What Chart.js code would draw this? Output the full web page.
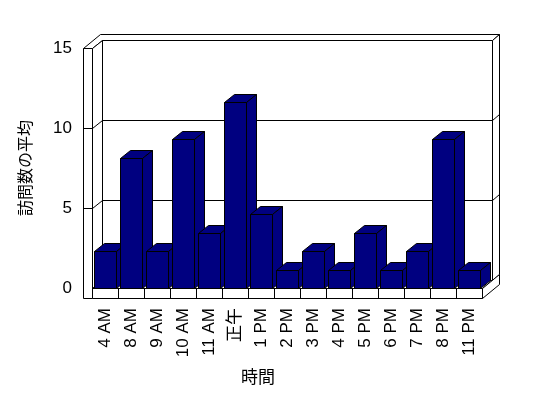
<!DOCTYPE html>
<html>
<head>
<meta charset="utf-8">
<script src="https://cdn.jsdelivr.net/npm/chart.js@4"></script>
<style>
html,body{margin:0;padding:0;background:#fff;}
canvas{display:block;}
</style>
</head>
<body>
<canvas id="c" width="548" height="398"></canvas>
<script>
const categories = ['4 AM','8 AM','9 AM','10 AM','11 AM','正午','1 PM','2 PM','3 PM','4 PM','5 PM','6 PM','7 PM','8 PM','11 PM'];
const visits = [2.33, 8.1, 2.33, 9.3, 3.45, 11.6, 4.6, 1.13, 2.33, 1.13, 3.45, 1.13, 2.33, 9.33, 1.13];
const yTickValues = [0, 5, 10, 15];
const yTitle = '訪問数の平均';
const xTitle = '時間';

const BAR = '#000080';
const DX = 10, DY = 8;     // plot depth
const BX = 7, BY = 6;      // back wall thickness
const WT = 9;              // left wall thickness
const FT = 10;             // floor thickness

function poly(ctx, pts, fill) {
  ctx.beginPath();
  ctx.moveTo(pts[0][0], pts[0][1]);
  for (let i = 1; i < pts.length; i++) ctx.lineTo(pts[i][0], pts[i][1]);
  ctx.closePath();
  ctx.fillStyle = fill;
  ctx.fill();
  ctx.stroke();
}
function line(ctx, x1, y1, x2, y2) {
  ctx.beginPath(); ctx.moveTo(x1, y1); ctx.lineTo(x2, y2); ctx.stroke();
}
const px = v => Math.round(v) + 0.5;

const threeD = {
  id: 'threeD',
  beforeDatasetsDraw(chart) {
    const ctx = chart.ctx, ys = chart.scales.y, xs = chart.scales.x, a = chart.chartArea;
    const L = px(a.left), R = px(a.right);
    const y0 = px(ys.getPixelForValue(0));
    const yT = px(ys.getPixelForValue(yTickValues[yTickValues.length - 1]));
    ctx.save();
    ctx.lineWidth = 1;
    ctx.strokeStyle = '#000';
    poly(ctx, [[L - WT, yT], [L, yT], [L + DX, yT - DY], [R + DX, yT - DY], [R + DX + BX, yT - DY - BY], [L - WT + DX + BX, yT - DY - BY]], '#fff');
    poly(ctx, [[L + DX, yT - DY], [R + DX, yT - DY], [R + DX, y0 - DY], [L + DX, y0 - DY]], '#fff');
    poly(ctx, [[R + DX, yT - DY], [R + DX + BX, yT - DY - BY], [R + DX + BX, y0 - DY - BY], [R + DX, y0 - DY]], '#fff');
    poly(ctx, [[L, yT], [L + DX, yT - DY], [L + DX, y0 - DY], [L, y0]], '#fff');
    poly(ctx, [[L, y0], [R, y0], [R + DX, y0 - DY], [L + DX, y0 - DY]], '#fff');
    poly(ctx, [[R, y0], [R + DX + BX, y0 - DY - BY], [R + DX + BX, y0 + FT - DY - BY], [R, y0 + FT]], '#fff');
    poly(ctx, [[L, y0], [R, y0], [R, y0 + FT], [L, y0 + FT]], '#fff');
    for (let i = 1; i < categories.length; i++) {
      const xx = px((xs.getPixelForValue(i - 1) + xs.getPixelForValue(i)) / 2);
      line(ctx, xx, y0, xx, y0 + FT);
    }
    poly(ctx, [[L - WT, yT], [L, yT], [L, y0 + FT], [L - WT, y0 + FT]], '#fff');
    for (const v of yTickValues) {
      if (v === yTickValues[0] || v === yTickValues[yTickValues.length - 1]) continue;
      const yv = px(ys.getPixelForValue(v));
      line(ctx, L - WT, yv, L, yv);
      line(ctx, L, yv, L + DX, yv - DY);
      line(ctx, L + DX, yv - DY, R + DX, yv - DY);
      line(ctx, R + DX, yv - DY, R + DX + BX, yv - DY - BY);
    }
    ctx.restore();
  },
  afterDatasetsDraw(chart) {
    const ctx = chart.ctx, ys = chart.scales.y;
    const y0 = px(ys.getPixelForValue(0));
    const meta = chart.getDatasetMeta(0);
    ctx.save();
    ctx.lineWidth = 1;
    ctx.strokeStyle = '#000';
    meta.data.forEach(bar => {
      const p = bar.getProps(['x', 'y', 'width'], true);
      const xl = px(p.x - p.width / 2), xr = px(p.x + p.width / 2), yt = px(p.y);
      poly(ctx, [[xl, yt], [xr, yt], [xr + DX, yt - DY], [xl + DX, yt - DY]], BAR);
      poly(ctx, [[xr, yt], [xr + DX, yt - DY], [xr + DX, y0 - DY], [xr, y0]], BAR);
      poly(ctx, [[xl, yt], [xr, yt], [xr, y0], [xl, y0]], BAR);
    });
    ctx.restore();
  },
  afterDraw(chart) {
    const ctx = chart.ctx;
    ctx.save();
    ctx.fillStyle = '#000';
    ctx.font = '17px "Noto Sans CJK JP"';
    ctx.textAlign = 'center';
    ctx.textBaseline = 'middle';
    ctx.fillText(xTitle, 258, 377);
    ctx.restore();
  }
};

new Chart(document.getElementById('c'), {
  type: 'bar',
  data: {
    labels: categories,
    datasets: [{
      data: visits,
      backgroundColor: BAR,
      borderColor: '#000',
      borderWidth: 1,
      barPercentage: 0.82,
      categoryPercentage: 1
    }]
  },
  options: {
    responsive: false,
    devicePixelRatio: 1,
    animation: false,
    events: [],
    layout: { padding: { left: 0, top: 48, right: 66, bottom: 0 } },
    plugins: { legend: { display: false }, tooltip: { enabled: false } },
    scales: {
      x: {
        grid: { display: false, drawTicks: false },
        border: { display: false },
        ticks: {
          autoSkip: false, minRotation: 90, maxRotation: 90, padding: 20,
          color: '#000', font: { family: '"Liberation Sans", "Noto Sans CJK JP"', size: 17 }
        },
        afterFit(s) { s.height = 110; }
      },
      y: {
        min: 0, max: 15,
        grid: { display: false, drawTicks: false },
        border: { display: false },
        ticks: {
          stepSize: 5, padding: 20, color: '#000',
          font: { family: '"Liberation Sans"', size: 17 }
        },
        afterBuildTicks(s) { s.ticks = yTickValues.map(v => ({ value: v })); },
        title: {
          display: true, text: yTitle, color: '#000',
          font: { family: '"Noto Sans CJK JP"', size: 16 },
          padding: { top: 15, bottom: 0 }
        },
        afterFit(s) { s.width = 92; }
      }
    }
  },
  plugins: [threeD]
});
</script>
</body>
</html>
